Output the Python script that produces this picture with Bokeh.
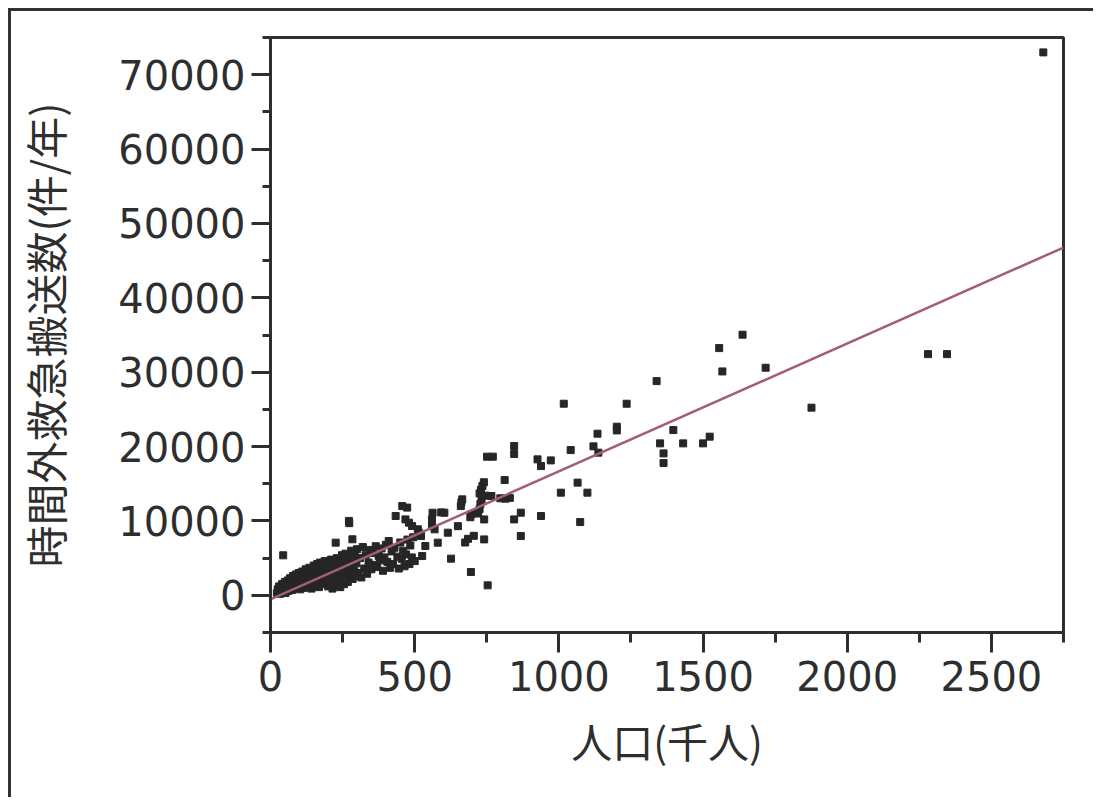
from bokeh.plotting import figure
from bokeh.models import Range1d, FixedTicker
from bokeh.embed import file_html
from bokeh.resources import INLINE

# ---- data ----
pop = [
    22, 25, 28, 30, 33, 35, 38, 40, 42, 45, 48, 50, 52, 55, 58, 60, 44,
    62, 65, 68, 70, 72, 75, 78, 80, 82, 85, 88, 90, 92, 95, 98, 100,
    103, 105, 108, 110, 112, 115, 118, 120, 122, 125, 128, 130, 132, 135, 138, 140, 142, 145, 148, 150,
    152, 155, 158, 160, 162, 165, 168, 170, 172, 175, 178, 180, 182, 185, 188, 190, 192, 195, 198, 200,
    202, 205, 208, 210, 212, 215, 218, 220, 222, 225, 226, 228, 230, 232, 235, 238, 240, 242, 245, 248, 250,
    252, 255, 258, 260, 262, 265, 268, 270, 272, 273, 275, 278, 280, 282, 284, 285, 288, 290, 292, 295, 298, 300,
    305, 310, 315, 320, 325, 330, 335, 340, 345, 350, 355, 360, 365, 370, 375, 380, 385, 390, 395, 400,
    405, 410, 415, 420, 425, 430, 434, 440, 445, 450, 455, 457, 460, 465, 468, 470, 474, 475, 480, 482, 485, 490, 491, 495, 500,
    511, 514, 522, 526, 537, 560, 560, 562, 569, 580, 592, 603, 615, 626, 650, 660, 662, 665, 675, 685, 693, 695, 697, 705,
    720, 725, 728, 732, 725, 730, 735, 740, 745, 741, 741, 753, 751, 771, 766, 797, 812, 815, 830, 845, 845, 845, 868, 868,
    926, 938, 938, 972,
    1007, 1017, 1041, 1065, 1074, 1099, 1120, 1134, 1137, 1201, 1201, 1235, 1339, 1351, 1363, 1363, 1397, 1431,
    1500, 1523, 1556, 1567, 1637, 1717, 1876, 2280, 2346, 2680,
]
transports = [
    300, 800, 500, 1200, 200, 900, 600, 1500, 400, 1100, 700, 1800, 300, 1300, 900, 2000, 5380,
    600, 1500, 2300, 1000, 1800, 700, 2600, 1300, 2100, 900, 2800, 1600, 2400, 1100, 3000, 1900,
    800, 2600, 1400, 3200, 2100, 1000, 2900, 1700, 3500, 2300, 1200, 3100, 2000, 3700, 1500, 2700, 900, 3300, 2200, 4000,
    1400, 2900, 3600, 1900, 4200, 2500, 1100, 3300, 4400, 2000, 3000, 1500, 3800, 2600, 4600, 1800, 3400, 2200, 4100, 1200,
    2900, 3700, 1700, 4800, 2400, 900, 3300, 2000, 4300, 1300, 7080, 3000, 5000, 1600, 3800, 2500, 4500, 1100, 3500, 5400, 2100,
    4000, 1500, 3100, 5600, 2400, 4400, 1800, 3600, 10000, 9700, 5200, 2800, 6000, 3900, 7530, 2200, 4800, 3300, 5800, 2600, 4300, 6200,
    3000, 5000, 2400, 6500, 3600, 5400, 2900, 4400, 6100, 3500, 5700, 4100, 6600, 3800, 5300, 4700, 6300, 3300, 5100, 6800,
    4500, 7300, 3700, 5900, 4200, 6400, 10660, 5200, 3600, 7100, 4900, 12000, 6000, 3900, 10210, 5500, 11790, 7500, 9770, 4200, 6700, 5100, 9310, 7800, 4600,
    8870, 8430, 7970, 5280, 6630, 9300, 10200, 11100, 8870, 7080, 11150, 11110, 8420, 4930, 9300, 12000, 12500, 12900, 7100, 7600, 10500, 3130, 10900, 8000,
    11000, 11600, 12300, 12900, 13700, 14200, 14700, 15200, 13400, 10200, 7520, 1340, 18640, 18640, 13350, 13040, 15500, 13000, 13100, 20070, 19000, 10210, 11110, 7970,
    18280, 17380, 10660, 18140,
    13800, 25760, 19530, 15150, 9850, 13800, 20030, 21730, 19180, 22670, 22170, 25760, 28800, 20430, 19080, 17780, 22220, 20430,
    20430, 21330, 33240, 30100, 35040, 30600, 25230, 32430, 32430, 73000,
]
# regression line coefficients
fit_intercept = -540.0
fit_slope = 17.2

x_ticks = [0, 500, 1000, 1500, 2000, 2500]
x_minor = [250, 750, 1250, 1750, 2250, 2750]
y_ticks = [0, 10000, 20000, 30000, 40000, 50000, 60000, 70000]
y_minor = [-5000, 5000, 15000, 25000, 35000, 45000, 55000, 65000, 75000]

X_MIN, X_MAX = 0, 2750
Y_MIN, Y_MAX = -5000, 75000

INK = "#2e2e2e"

p = figure(width=1085, height=789,
           x_range=Range1d(X_MIN, X_MAX), y_range=Range1d(Y_MIN, Y_MAX),
           output_backend="svg", toolbar_location=None,
           min_border_left=257, min_border_right=33,
           min_border_top=26, min_border_bottom=168)
p.styles = {"margin-left": "8px", "margin-top": "8px",
            "border-top": "3px solid #333333", "border-left": "3px solid #333333"}

p.xgrid.visible = False
p.ygrid.visible = False
p.outline_line_color = INK
p.outline_line_width = 3
p.outline_line_alpha = 1.0
p.background_fill_color = "white"
p.border_fill_color = "white"

fit_x = [X_MIN, X_MAX]
fit_y = [fit_intercept + fit_slope * v for v in fit_x]

p.scatter(pop, transports, marker="square", size=7, fill_color="#262626",
          line_color="#262626")
p.line(fit_x, fit_y, line_color="#a0606f", line_width=2.5)

p.xaxis.ticker = FixedTicker(ticks=x_ticks, minor_ticks=x_minor)
p.yaxis.ticker = FixedTicker(ticks=y_ticks, minor_ticks=y_minor)

for ax in (p.xaxis[0], p.yaxis[0]):
    ax.axis_line_color = INK
    ax.axis_line_width = 3
    ax.major_tick_line_color = INK
    ax.major_tick_line_width = 3
    ax.minor_tick_line_color = INK
    ax.minor_tick_line_width = 3
    ax.major_tick_in = 0
    ax.minor_tick_in = 0
    ax.major_label_text_font = "DejaVu Sans"
    ax.major_label_text_font_size = "40px"
    ax.major_label_text_color = INK
    ax.axis_label_text_font = "Noto Sans CJK JP"
    ax.axis_label_text_font_style = "normal"
    ax.axis_label_text_color = INK

p.xaxis.axis_label_text_font_size = "41px"
p.yaxis.axis_label_text_font_size = "42px"
p.xaxis.major_tick_out = 20
p.xaxis.minor_tick_out = 10
p.yaxis.major_tick_out = 19
p.yaxis.minor_tick_out = 8
p.xaxis.major_label_standoff = 8
p.yaxis.major_label_standoff = 6
p.xaxis.axis_label = "人口(千人)"
p.yaxis.axis_label = "時間外救急搬送数(件/年)"
p.xaxis.axis_label_standoff = 16
p.yaxis.axis_label_standoff = 40

open("out.html", "w").write(file_html(p, INLINE))
